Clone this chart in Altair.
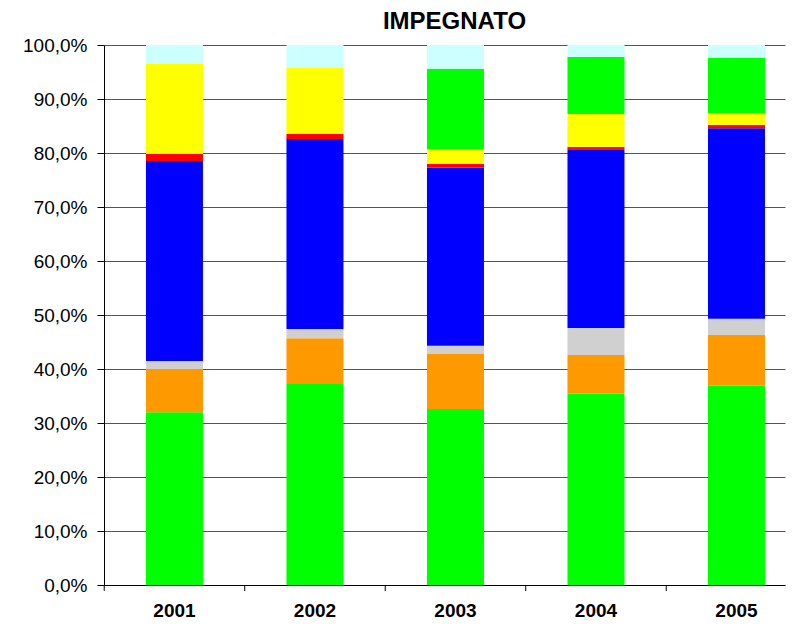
import altair as alt
import pandas as pd

years = ["2001", "2002", "2003", "2004", "2005"]
series = ["Voce 1", "Voce 2", "Voce 3", "Voce 4", "Voce 5", "Voce 6", "Voce 7", "Voce 8"]
colors = ["#00FF00", "#FF9900", "#D0D0D0", "#0000FF", "#FF0000", "#FFFF00", "#00FF00", "#CCFFFF"]

voce1 = [32.0, 37.2, 32.6, 35.4, 36.9]
voce2 = [8.0, 8.5, 10.2, 7.2, 9.4]
voce3 = [1.5, 1.7, 1.5, 5.0, 3.0]
voce4 = [37.0, 35.2, 33.0, 33.1, 35.3]
voce5 = [1.3, 0.9, 0.7, 0.4, 0.6]
voce6 = [16.7, 12.3, 2.7, 6.1, 2.2]
voce7 = [0.0, 0.0, 14.9, 10.6, 10.2]
voce8 = [3.5, 4.2, 4.4, 2.2, 2.4]

all_series = [voce1, voce2, voce3, voce4, voce5, voce6, voce7, voce8]
rows = []
for si, (name, vals) in enumerate(zip(series, all_series)):
    for y, v in zip(years, vals):
        rows.append({"anno": y, "serie": name, "ordine": si, "valore": v})
df = pd.DataFrame(rows)

W, H = 681, 540
xscale = alt.Scale(paddingInner=0.5943, paddingOuter=0.2206, align=0.677)

bars = alt.Chart(df).mark_bar().encode(
    x=alt.X("anno:N", scale=xscale, sort=years,
            axis=alt.Axis(title=None, labelAngle=0, ticks=False, domain=True,
                          domainColor="#000000", labelFont="Liberation Sans",
                          labelFontWeight="bold", labelFontSize=19, labelColor="#000000",
                          labelPadding=16)),
    y=alt.Y("valore:Q", stack="zero",
            scale=alt.Scale(domain=[0, 100], nice=False),
            axis=alt.Axis(title=None, values=list(range(0, 101, 10)),
                          labelExpr="replace(format(datum.value, '.1f'), '.', ',') + '%'",
                          grid=True, gridColor="#555555", gridWidth=1,
                          domainColor="#000000", tickColor="#000000", tickSize=7,
                          labelFont="Liberation Sans", labelFontSize=19, labelColor="#000000",
                          labelPadding=10)),
    color=alt.Color("serie:N", scale=alt.Scale(domain=series, range=colors), legend=None),
    order=alt.Order("ordine:Q", sort="ascending"),
)

ticks_df = pd.DataFrame({"anno": years})
xticks = alt.Chart(ticks_df).mark_rule(color="#000000", strokeWidth=1, xOffset=-41.75).encode(
    x=alt.X("anno:N", sort=years, bandPosition=0),
    y=alt.value(H),
    y2=alt.value(H + 6),
)

chart = alt.layer(bars, xticks).properties(
    width=W, height=H,
    title=alt.TitleParams("IMPEGNATO", font="Liberation Sans", fontSize=24,
                          fontWeight="bold", color="#000000", anchor="middle",
                          dx=10, offset=2),
    autosize=alt.AutoSizeParams(type="none"),
    padding={"left": 96, "top": 37, "right": 3, "bottom": 39},
).configure_view(stroke=None)

chart.save("out.html", embed_options={"renderer": "svg", "actions": False})
